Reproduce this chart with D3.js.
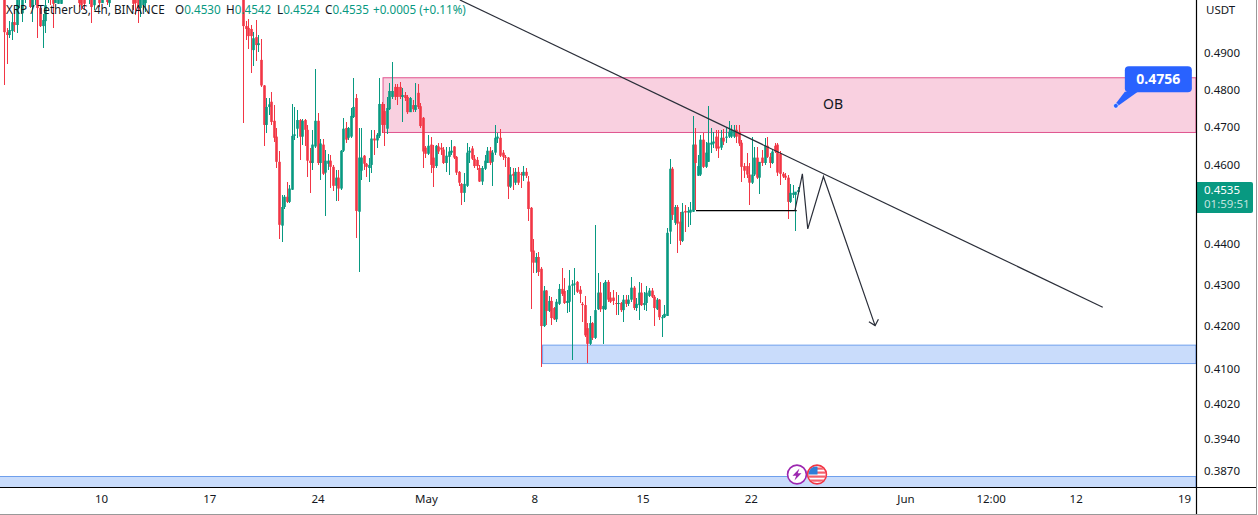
<!DOCTYPE html>
<html>
<head>
<meta charset="utf-8">
<script src="https://cdnjs.cloudflare.com/ajax/libs/d3/7.8.5/d3.min.js"></script>
<style>
    html, body {margin: 0; padding: 0; background: #fff;}
    svg {display: block; font-family: "Noto Sans", sans-serif;}
</style>
</head>
<body>
<div class="myChart"></div>
<script>
// bars before the gap, most of them run off the top of the view: [bar, open, high, low, close]
var earlyRows = [
    [-93,.5070,.5080,.4812,.4958],[-92,.4958,.4970,.4871,.4950],[-91,.4950,.4990,.4941,.4964],[-90,.4961,.5010,.4936,.4986],
    [-89,.4986,.5020,.4958,.4978],[-88,.4978,.5070,.4955,.5060],[-87,.5060,.5080,.5026,.5075],[-86,.5011,.5070,.4986,.5065],
    [-85,.5060,.5080,.5040,.5070],[-83,.5070,.5080,.5026,.5029],[-82,.5029,.5070,.4986,.5060],[-81,.5060,.5080,.5034,.5070],
    [-80,.5070,.5080,.4941,.5026],[-79,.5026,.5035,.4972,.4975],[-78,.4975,.5010,.4913,.4992],[-77,.4989,.5050,.4955,.5034],
    [-76,.5060,.5080,.5040,.5070],[-75,.5070,.5080,.5034,.5060],[-74,.5065,.5070,.4970,.5038],[-73,.5040,.5080,.5043,.5070],
    [-72,.5038,.5080,.5038,.5065],[-71,.5038,.5080,.5038,.5070],[-64,.5070,.5080,.5029,.5040],[-63,.5070,.5080,.5020,.5034],
    [-62,.5070,.5080,.5023,.5038],[-60,.5060,.5080,.5038,.5070],[-59,.5070,.5080,.4983,.5029],[-58,.5034,.5080,.5020,.5070],
    [-56,.5070,.5080,.5029,.5040],[-55,.5040,.5080,.5040,.5070],[-53,.5070,.5080,.5034,.5043],[-52,.5040,.5080,.5029,.5070],
    [-43,.5070,.5080,.5020,.5038],[-42,.5070,.5080,.5006,.5040],[-41,.5070,.5080,.4983,.5026],[-40,.5026,.5080,.5001,.5070],
    [-39,.5034,.5080,.5020,.5070],[-38,.5040,.5080,.5015,.5070]
];

// 4h bars from 19 Apr 04:00 onward: [open, high, low, close]
var aprilDrop = [
    [.5080,.5090,.4710,.4975],[.4975,.4990,.4935,.4967],[.4970,.4995,.4910,.4947],[.4967,.4978,.4846,.4947],[.4908,.4958,.4865,.4941],
    [.4944,.4992,.4878,.4922],[.4922,.4950,.4903,.4927],[.4881,.4938,.4808,.4811],[.4811,.4813,.4650,.4705],[.4705,.4777,.4684,.4753],
    [.4753,.4777,.4731,.4760],[.4767,.4794,.4705,.4713],[.4716,.4758,.4661,.4671],[.4674,.4697,.4592,.4608],[.4608,.4635,.4412,.4447],
    [.4445,.4523,.4405,.4492],[.4492,.4523,.4487,.4518],[.4518,.4557,.4503,.4505],[.4505,.4549,.4503,.4539],[.4536,.4761,.4536,.4676],
    [.4676,.4753,.4666,.4680],[.4695,.4745,.4671,.4718],[.4718,.4721,.4613,.4674],[.4674,.4721,.4653,.4716],[.4718,.4721,.4650,.4692],
    [.4692,.4705,.4570,.4611],[.4611,.4645,.4528,.4605],[.4605,.4692,.4587,.4653],[.4648,.4857,.4645,.4716],[.4716,.4737,.4600,.4605]
];
var aprilBase = [
    [.4605,.4669,.4562,.4656],[.4653,.4669,.4575,.4577],[.4580,.4640,.4470,.4611],[.4603,.4629,.4587,.4611],[.4611,.4626,.4541,.4595],
    [.4595,.4600,.4533,.4546],[.4546,.4587,.4508,.4567],[.4567,.4587,.4508,.4539],[.4539,.4640,.4536,.4637],[.4637,.4724,.4634,.4695],
    [.4697,.4713,.4658,.4666],[.4671,.4700,.4666,.4697],[.4674,.4750,.4671,.4729],[.4726,.4832,.4724,.4753],[.4777,.4788,.4415,.4482],
    [.4480,.4697,.4330,.4619],[.4585,.4697,.4562,.4619],[.4624,.4626,.4587,.4603],[.4603,.4605,.4570,.4595],[.4592,.4619,.4557,.4600],
    [.4600,.4692,.4580,.4669],[.4669,.4692,.4627,.4664],[.4664,.4684,.4645,.4679],[.4676,.4832,.4671,.4761],[.4761,.4765,.4684,.4705],
    [.4742,.4761,.4650,.4705],[.4695,.4780,.4681,.4750],[.4747,.4818,.4745,.4796],[.4780,.4876,.4775,.4796],[.4807,.4815,.4772,.4780]
];
var mayTop = [
    [.4807,.4815,.4758,.4780],[.4807,.4820,.4775,.4780],[.4780,.4804,.4713,.4785],[.4785,.4793,.4769,.4777],[.4780,.4785,.4734,.4739],
    [.4739,.4780,.4739,.4777],[.4758,.4772,.4739,.4747],[.4745,.4818,.4739,.4758],[.4791,.4815,.4747,.4753],[.4755,.4764,.4697,.4702],
    [.4724,.4726,.4592,.4635],[.4645,.4650,.4619,.4629],[.4629,.4679,.4627,.4650],[.4653,.4674,.4580,.4600],[.4619,.4653,.4544,.4592],
    [.4597,.4653,.4592,.4650],[.4648,.4656,.4629,.4635],[.4645,.4658,.4627,.4640],[.4640,.4648,.4603,.4605],[.4605,.4648,.4582,.4624],
    [.4621,.4648,.4575,.4635],[.4632,.4664,.4627,.4637],[.4648,.4650,.4616,.4619],[.4621,.4624,.4575,.4580],[.4582,.4585,.4546,.4554],
    [.4551,.4554,.4497,.4528],[.4528,.4580,.4505,.4551],[.4546,.4656,.4544,.4632],[.4632,.4648,.4605,.4637],[.4643,.4650,.4613,.4616]
];
var mayFall = [
    [.4616,.4627,.4592,.4597],[.4613,.4621,.4587,.4597],[.4592,.4600,.4557,.4557],[.4557,.4597,.4549,.4592],[.4590,.4627,.4587,.4611],
    [.4605,.4648,.4605,.4637],[.4637,.4648,.4600,.4605],[.4608,.4640,.4546,.4632],[.4632,.4705,.4627,.4671],[.4669,.4684,.4658,.4674],
    [.4671,.4695,.4621,.4624],[.4632,.4640,.4613,.4621],[.4621,.4627,.4595,.4619],[.4619,.4621,.4513,.4544],[.4544,.4595,.4541,.4575],
    [.4577,.4592,.4536,.4572],[.4554,.4592,.4549,.4582],[.4582,.4595,.4549,.4554],[.4577,.4582,.4541,.4575],[.4572,.4597,.4559,.4582],
    [.4582,.4592,.4567,.4572],[.4557,.4572,.4457,.4487],[.4490,.4493,.4240,.4380],[.4383,.4412,.4328,.4353],[.4353,.4378,.4328,.4367],
    [.4367,.4380,.4321,.4330],[.4338,.4343,.4103,.4200],[.4200,.4297,.4198,.4285],[.4285,.4287,.4202,.4236],[.4236,.4273,.4233,.4260]
];
var mayRange = [
    [.4260,.4270,.4202,.4219],[.4243,.4245,.4214,.4216],[.4216,.4265,.4209,.4258],[.4253,.4300,.4250,.4289],[.4289,.4340,.4273,.4277],
    [.4284,.4316,.4253,.4255],[.4255,.4287,.4231,.4260],[.4258,.4335,.4233,.4297],[.4297,.4311,.4121,.4300],[.4300,.4340,.4275,.4302],
    [.4306,.4309,.4280,.4282],[.4287,.4295,.4255,.4277],[.4253,.4258,.4209,.4250],[.4250,.4273,.4174,.4178],[.4195,.4207,.4114,.4158],
    [.4158,.4224,.4155,.4207],[.4207,.4210,.4167,.4172],[.4172,.4447,.4170,.4238],[.4240,.4328,.4238,.4280],[.4280,.4306,.4233,.4240],
    [.4240,.4304,.4158,.4248],[.4240,.4311,.4238,.4306],[.4306,.4311,.4258,.4263],[.4268,.4282,.4255,.4258],[.4268,.4287,.4250,.4260],
    [.4255,.4282,.4226,.4253],[.4253,.4275,.4226,.4255],[.4255,.4258,.4233,.4238],[.4238,.4275,.4209,.4263],[.4263,.4275,.4245,.4253]
];
var mayBreakout = [
    [.4253,.4275,.4248,.4263],[.4263,.4318,.4258,.4292],[.4292,.4295,.4238,.4243],[.4243,.4268,.4236,.4253],[.4250,.4306,.4214,.4280],
    [.4280,.4304,.4248,.4250],[.4250,.4282,.4238,.4255],[.4255,.4295,.4236,.4280],[.4272,.4292,.4270,.4285],[.4285,.4292,.4268,.4270],
    [.4270,.4275,.4200,.4243],[.4240,.4268,.4238,.4263],[.4263,.4265,.4214,.4221],[.4219,.4226,.4174,.4221],[.4221,.4250,.4219,.4229],
    [.4224,.4440,.4224,.4427],[.4430,.4616,.4400,.4590],[.4590,.4595,.4460,.4472],[.4452,.4497,.4447,.4492],[.4492,.4497,.4378,.4450],
    [.4455,.4480,.4397,.4407],[.4407,.4502,.4405,.4480],[.4482,.4497,.4430,.4478],[.4478,.4492,.4442,.4482],[.4478,.4505,.4447,.4485],
    [.4480,.4729,.4480,.4653],[.4653,.4697,.4485,.4605],[.4572,.4627,.4572,.4597],[.4575,.4679,.4572,.4666],[.4666,.4684,.4592,.4595]
];
var mayLast = [
    [.4595,.4661,.4592,.4632],[.4608,.4755,.4608,.4658],[.4653,.4697,.4632,.4658],[.4656,.4687,.4645,.4661],[.4674,.4692,.4635,.4643],
    [.4648,.4692,.4619,.4643],[.4645,.4692,.4640,.4671],[.4671,.4695,.4653,.4661],[.4671,.4697,.4658,.4674],[.4674,.4716,.4671,.4687],
    [.4674,.4705,.4671,.4692],[.4674,.4705,.4671,.4692],[.4692,.4705,.4658,.4674],[.4687,.4705,.4650,.4656],[.4658,.4666,.4557,.4595],
    [.4597,.4605,.4567,.4585],[.4597,.4632,.4567,.4575],[.4575,.4605,.4497,.4554],[.4554,.4674,.4551,.4575],[.4575,.4648,.4572,.4619],
    [.4619,.4648,.4564,.4567],[.4567,.4608,.4526,.4608],[.4619,.4640,.4597,.4605],[.4605,.4671,.4600,.4650],[.4650,.4674,.4619,.4621],
    [.4621,.4632,.4592,.4605],[.4605,.4640,.4603,.4635],[.4650,.4658,.4632,.4635],[.4653,.4658,.4572,.4580],[.4629,.4635,.4549,.4577],
    [.4577,.4582,.4567,.4570],[.4572,.4580,.4562,.4567],[.4567,.4575,.4462,.4505],[.4505,.4551,.4503,.4528],[.4523,.4549,.4515,.4528],
    [.4523,.4531,.4432,.4531],[.4530,.4542,.4524,.4535]
];

var priceTicks = [.49, .48, .47, .46, .44, .43, .42, .41, .402, .394, .387];
var dateTicks = [[3,10],[3,17],[3,24],[4,1],[4,8],[4,15],[4,22],[5,1],[5,6,12],[5,12],[5,19]];
var dateLabels = ['10','17','24','May','8','15','22','Jun','12:00','12','19'];

// drawings on the chart, as [bar, price]
var trendLine = [[84.4,.5049],[334.6,.4245]];
var neckLine = [[176.3,.4483],[215.5,.4483]];
var projection = [[214.8,.4483],[217.7,.4577],[219.8,.4437],[225.9,.4570],[246,.4201]];
var arrowHead = [[243.6,.4210],[246,.4201],[247.3,.4216]];
var obZone = {bar: 54.5, top: .4832, bottom: .4685};
var demandZone = {bar: 116.6, top: .4155, bottom: .4112};
var lowerZone = {bar: -100, top: .3858, bottom: .3800};
var noteBar = 339.7, notePrice = .4756;
var eventBars = [215.6, 223.4];

var legendName = 'XRP / TetherUS, 4h, BINANCE';
var ohlcLabels = ['O','H','L','C'], ohlcValues = ['0.4530','0.4542','0.4524','0.4535'];
var changeText = '+0.0005 (+0.11%)';
var lastPrice = .4535, countdown = '01:59:51';

var up = '#089981', down = '#f23645', ink = '#131722';
var width = 1258, height = 515, plotRight = 1196, plotBottom = 487;

var svg = d3.select('.myChart').append('svg').attr('width', width).attr('height', height);
svg.append('defs').append('clipPath').attr('id', 'plot').append('rect')
    .attr('width', plotRight).attr('height', plotBottom);

var x = d3.scaleUtc().domain([Date.UTC(2023,3,10), Date.UTC(2023,5,19)]).range([101, 1184]);
var y = d3.scaleLog().domain([.387, .49]).range([471, 53]);
var barX = d3.scaleLinear().domain([0, 216]).range([243, 798]);

var rows = [].concat(aprilDrop, aprilBase, mayTop, mayFall, mayRange, mayBreakout, mayLast)
    .map(function (d, i) { return {bar: i, o: d[0], h: d[1], l: d[2], c: d[3]}; });
rows = earlyRows.map(function (d) { return {bar: d[0], o: d[1], h: d[2], l: d[3], c: d[4]}; }).concat(rows);

var plot = svg.append('g').attr('clip-path', 'url(#plot)');

// zones
[[obZone, '#f9d0e0', '#e0558f'], [demandZone, '#c9dcfb', '#6f9fec'], [lowerZone, '#c9dcfb', '#6f9fec']].forEach(function (z) {
    var d = z[0];
    plot.append('rect')
        .attr('x', barX(d.bar)).attr('y', y(d.top))
        .attr('width', plotRight - barX(d.bar)).attr('height', y(d.bottom) - y(d.top))
        .attr('fill', z[1]).attr('stroke', z[2]).attr('stroke-width', 1);
});

// candles
var color = function (d) { return d.c >= d.o ? up : down; };
var snap = function (d) { return Math.round(barX(d.bar)) + .5; };
plot.selectAll('.wick').data(rows).enter().append('line')
    .attr('class', 'wick')
    .attr('x1', snap).attr('x2', snap)
    .attr('y1', function (d) { return y(d.h); }).attr('y2', function (d) { return y(d.l); })
    .attr('stroke', color).attr('stroke-width', 1).attr('shape-rendering', 'crispEdges');
plot.selectAll('.body').data(rows).enter().append('rect')
    .attr('class', 'body')
    .attr('x', function (d) { return snap(d) - 1.3; }).attr('width', 2.6)
    .attr('y', function (d) { return y(Math.max(d.o, d.c)); })
    .attr('height', function (d) { return Math.max(1, Math.abs(y(d.o) - y(d.c))); })
    .attr('fill', color);

// drawings
var path = d3.line().x(function (d) { return barX(d[0]); }).y(function (d) { return y(d[1]); });
[[trendLine, '#2a2e39', 1.2], [neckLine, '#000', 1.2], [projection, '#2a2e39', 1.2], [arrowHead, '#2a2e39', 1.2]].forEach(function (l) {
    plot.append('path').attr('d', path(l[0])).attr('fill', 'none').attr('stroke', l[1]).attr('stroke-width', l[2]);
});

svg.append('text').attr('x', 833).attr('y', y(.4762)).attr('dy', '.35em').attr('text-anchor', 'middle')
    .attr('font-size', 14).attr('fill', ink).text('OB');

// price note
var nx = barX(noteBar), ny = y(notePrice);
var note = svg.append('g');
note.append('path').attr('d', 'M' + (nx - 1) + ',' + (ny - 1) + 'L' + (nx + 9) + ',' + (ny - 14) + 'L' + (nx + 22) + ',' + (ny - 14) + 'L' + (nx + 1) + ',' + (ny + 1) + 'Z').attr('fill', '#2962ff');
note.append('rect').attr('x', nx + 9).attr('y', ny - 39.5).attr('width', 67).attr('height', 26).attr('rx', 4).attr('fill', '#2962ff');
note.append('circle').attr('cx', nx).attr('cy', ny).attr('r', 2.4).attr('fill', '#2962ff').attr('stroke', '#fff').attr('stroke-width', .6);
note.append('text').attr('x', nx + 42.5).attr('y', ny - 26.5).attr('dy', '.35em').attr('text-anchor', 'middle')
    .attr('font-size', 14).attr('font-weight', 700).attr('fill', '#fff').text(notePrice.toFixed(4));

// event icons
var iconY = 474.5;
svg.append('defs').append('clipPath').attr('id', 'flag').append('circle').attr('r', 8.6);
var bolt = svg.append('g').attr('transform', 'translate(' + barX(eventBars[0]) + ',' + iconY + ')');
bolt.append('circle').attr('r', 9.4).attr('fill', '#fff').attr('stroke', '#9c27b0').attr('stroke-width', 1.6);
bolt.append('path').attr('d', 'M2.5,-6L-4.5,1.2L-0.8,1.2L-2.5,6L4.5,-1.2L0.8,-1.2Z').attr('fill', '#9c27b0');
var flag = svg.append('g').attr('transform', 'translate(' + barX(eventBars[1]) + ',' + iconY + ')');
flag.append('circle').attr('r', 9.4).attr('fill', '#fff').attr('stroke', '#f23645').attr('stroke-width', 1.6);
var flagInner = flag.append('g').attr('clip-path', 'url(#flag)');
[-7, -3, 1, 5].forEach(function (s) {
    flagInner.append('rect').attr('x', -9).attr('y', s).attr('width', 18).attr('height', 2.2).attr('fill', '#f4606c');
});
flagInner.append('rect').attr('x', -9).attr('y', -8).attr('width', 9.5).attr('height', 8).attr('fill', '#2f7ed8');

// axes
var yAxis = svg.append('g').attr('transform', 'translate(' + plotRight + ',0)')
    .call(d3.axisRight(y).tickValues(priceTicks).tickFormat(d3.format('.4f')).tickSize(0).tickPadding(8));
yAxis.select('.domain').remove();
yAxis.selectAll('text').attr('font-size', 11.5).attr('font-family', '"Noto Sans", sans-serif').attr('fill', ink);

var xAxis = svg.append('g').attr('transform', 'translate(0,' + plotBottom + ')')
    .call(d3.axisBottom(x)
        .tickValues(dateTicks.map(function (d) { return new Date(Date.UTC(2023, d[0], d[1], d[2] || 0)); }))
        .tickFormat(function (d, i) { return dateLabels[i]; }).tickSize(0).tickPadding(8));
xAxis.select('.domain').remove();
xAxis.selectAll('text').attr('font-size', 11.5).attr('font-family', '"Noto Sans", sans-serif').attr('fill', ink);

svg.append('text').attr('x', 1206).attr('y', 10).attr('dy', '.35em').attr('font-size', 11.5).attr('fill', ink).text('USDT');

// last price tag
var tagY = y(lastPrice);
svg.append('path').attr('d', 'M' + plotRight + ',' + (tagY - 8) + 'H1251a2,2 0 0 1 2,2V' + (tagY + 21) + 'a2,2 0 0 1 -2,2H' + plotRight + 'Z').attr('fill', up);
svg.append('text').attr('x', 1204).attr('y', tagY).attr('dy', '.35em').attr('font-size', 11.5).attr('fill', '#fff').text(lastPrice.toFixed(4));
svg.append('text').attr('x', 1204).attr('y', tagY + 14).attr('dy', '.35em').attr('font-size', 11.5).attr('fill', '#fff').attr('fill-opacity', .75).text(countdown);

// frame
svg.append('line').attr('x1', plotRight + .5).attr('x2', plotRight + .5).attr('y1', 0).attr('y2', 514).attr('stroke', '#000').attr('stroke-width', 1.2);
svg.append('line').attr('x1', 0).attr('x2', 1256).attr('y1', plotBottom + .5).attr('y2', plotBottom + .5).attr('stroke', '#000').attr('stroke-width', 1.2);
svg.append('line').attr('x1', 0).attr('x2', 1257).attr('y1', 514.5).attr('y2', 514.5).attr('stroke', '#999');
svg.append('line').attr('x1', 1256.5).attr('x2', 1256.5).attr('y1', 0).attr('y2', 515).attr('stroke', '#999');

// legend
var legend = svg.append('text').attr('y', 10).attr('dy', '.35em').attr('font-size', 11.7).attr('fill', ink);
legend.append('tspan').attr('x', 6).text(legendName);
var legendX = [175, 226, 277, 325];
ohlcLabels.forEach(function (l, i) {
    legend.append('tspan').attr('x', legendX[i]).text(l);
    legend.append('tspan').attr('fill', up).text(ohlcValues[i]);
});
legend.append('tspan').attr('x', 373).attr('fill', up).text(changeText);
</script>
</body>
</html>
